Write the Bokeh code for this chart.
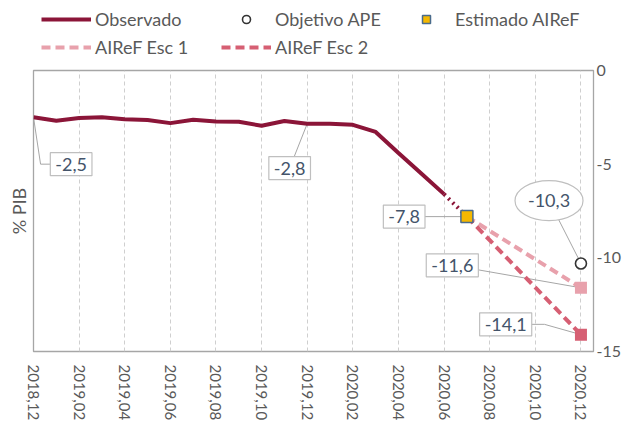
from bokeh.plotting import figure
from bokeh.layouts import column
from bokeh.models import (Range1d, FixedTicker, Legend, LegendItem, Label, Title)
from bokeh.embed import file_html
from bokeh.resources import INLINE

# ---------------- data ----------------
month_labels = ["2018,12", "2019,01", "2019,02", "2019,03", "2019,04", "2019,05",
                "2019,06", "2019,07", "2019,08", "2019,09", "2019,10", "2019,11",
                "2019,12", "2020,01", "2020,02", "2020,03", "2020,04", "2020,05",
                "2020,06", "2020,07", "2020,08", "2020,09", "2020,10", "2020,11",
                "2020,12"]
observado = [-2.5, -2.68, -2.54, -2.5, -2.6, -2.64, -2.81, -2.63, -2.72, -2.74,
             -2.95, -2.7, -2.84, -2.84, -2.9, -3.28, -4.4, -5.5, -6.6]
obs_months = list(range(len(observado)))
estimado_month = [19]
estimado = [-7.8]
esc_months = [19, 24]
esc1 = [-7.8, -11.6]
esc2 = [-7.8, -14.1]
objetivo_month = [24]
objetivo = [-10.3]
y_ticks = [0, -5, -10, -15]
y_tick_labels = ["0", "-5", "-10", "-15"]
x_ticks = list(range(0, 25, 2))

FONT = "Lato"
GREY = "#595959"
C_OBS = "#8B1538"
C_ESC1 = "#E8A1AC"
C_ESC2 = "#D65F73"

# ---------------- styles ----------------
OBS_STYLE = dict(line_color=C_OBS, line_width=4)
ESC1_STYLE = dict(line_color=C_ESC1, line_width=4, line_dash="9 5")
ESC2_STYLE = dict(line_color=C_ESC2, line_width=4, line_dash="9 5")
OBJ_STYLE = dict(marker="circle", size=11, fill_color="white",
                 line_color="#333333", line_width=1.6)
EST_STYLE = dict(marker="square", size=12, fill_color="#F5B800",
                 line_color="#4A6B8C", line_width=1.5)

# ---------------- main chart ----------------
p = figure(width=624, height=371, output_backend="svg", toolbar_location=None,
           x_range=Range1d(0, 24.55), y_range=Range1d(-15, 0),
           y_axis_location="right",
           min_border_left=33, min_border_right=29, min_border_top=12,
           min_border_bottom=78)
p.background_fill_color = "white"
p.border_fill_color = "white"
p.outline_line_color = "#a6a6a6"
p.outline_line_width = 1.3

xa = p.xaxis[0]
xa.ticker = FixedTicker(ticks=x_ticks)
xa.major_label_overrides = {i: month_labels[i] for i in x_ticks}
xa.major_label_orientation = "vertical"
xa.major_label_text_font = FONT
xa.major_label_text_font_size = "15px"
xa.major_label_text_color = GREY
xa.major_label_standoff = 13
xa.major_tick_out = 0
xa.major_tick_in = 0
xa.axis_line_color = None
xa.major_tick_line_color = None
xa.minor_tick_line_color = None

ya = p.yaxis[0]
ya.ticker = FixedTicker(ticks=y_ticks)
ya.major_label_overrides = dict(zip(y_ticks, y_tick_labels))
ya.major_label_text_font = FONT
ya.major_label_text_font_size = "16px"
ya.major_label_text_color = GREY
ya.major_label_standoff = 3
ya.major_tick_out = 0
ya.major_tick_in = 0
ya.axis_label_standoff = 0
ya.axis_line_color = None
ya.major_tick_line_color = None
ya.minor_tick_line_color = None

p.add_layout(Title(text="% PIB", align="center", text_font=FONT,
                   text_font_size="18px", text_font_style="normal",
                   text_color=GREY, standoff=8), "left")

p.xgrid.ticker = FixedTicker(ticks=x_ticks)
p.xgrid.grid_line_color = "#cfcfcf"
p.xgrid.grid_line_dash = "4 3"
p.ygrid.grid_line_color = None

# ---------------- callouts (label offsets in data units) ----------------
def fmt(v):
    return f"{v:.1f}".replace(".", ",")

LEAD = "#a6a6a6"
callouts = [
    # (x, y, dx, dy, elbow_dx, shape)
    (obs_months[0], observado[0], 1.65, -2.5, 0.31, "box"),
    (obs_months[12], observado[12], -0.77, -2.37, None, "box"),
    (estimado_month[0], estimado[0], -2.75, 0.0, None, "box"),
    (objetivo_month[0], objetivo[0], -1.4, 3.35, None, "ellipse"),
    (esc_months[1], esc1[1], -5.64, 1.2, None, "box"),
    (esc_months[1], esc2[1], -3.3, 0.55, -1.6, "box"),
]
for (x, y, dx, dy, elbow, shape) in callouts:
    lx, ly = x + dx, y + dy
    if elbow is None:
        p.line([x, lx], [y, ly], line_color=LEAD, line_width=1)
    else:
        p.line([x, x + elbow, lx], [y, ly, ly], line_color=LEAD, line_width=1)
    if shape == "ellipse":
        p.ellipse(x=[lx], y=[ly], width=68, height=40, width_units="screen",
                  height_units="screen", fill_color="white", line_color="#bfbfbf",
                  line_width=1.2)
        p.add_layout(Label(x=lx, y=ly, text=fmt(y), text_align="center",
                           text_baseline="middle", text_font=FONT,
                           text_font_size="18px", text_color="#44546A"))
    else:
        p.add_layout(Label(x=lx, y=ly, text=fmt(y), text_align="center",
                           text_baseline="middle", text_font=FONT,
                           text_font_size="18px", text_color="#44546A",
                           background_fill_color="white",
                           border_line_color="#bfbfbf", border_line_width=1.2,
                           padding=5))

# ---------------- series ----------------
p.line(esc_months, esc1, **ESC1_STYLE)
p.line(esc_months, esc2, **ESC2_STYLE)
p.scatter([esc_months[1]], [esc1[1]], marker="square", size=12, fill_color=C_ESC1,
          line_color=None)
p.scatter([esc_months[1]], [esc2[1]], marker="square", size=12, fill_color=C_ESC2,
          line_color=None)
p.line(obs_months, observado, **OBS_STYLE)
p.line([obs_months[-1], estimado_month[0]], [observado[-1], estimado[0]],
       line_color=C_OBS, line_width=4, line_dash="2 4")
p.scatter(objetivo_month, objetivo, **OBJ_STYLE)
p.scatter(estimado_month, estimado, **EST_STYLE)

# ---------------- legend strip above the chart ----------------
# proxies use the real series, but this strip's ranges keep them out of view
lf = figure(width=624, height=58, output_backend="svg", toolbar_location=None,
            x_range=Range1d(100, 101), y_range=Range1d(100, 101),
            x_axis_type=None, y_axis_type=None, min_border=0,
            min_border_left=0, min_border_right=0, min_border_top=0,
            min_border_bottom=0)
lf.outline_line_color = None
lf.grid.visible = False
lf.background_fill_color = "white"
lf.border_fill_color = "white"
g_obs = lf.line(obs_months, observado, **OBS_STYLE)
g_obj = lf.scatter(objetivo_month, objetivo, **OBJ_STYLE)
g_est = lf.scatter(estimado_month, estimado, **EST_STYLE)
g_esc1 = lf.line(esc_months, esc1, **ESC1_STYLE)
g_esc2 = lf.line(esc_months, esc2, **ESC2_STYLE)

leg_style = dict(orientation="horizontal",
                 label_text_font=FONT, label_text_font_size="18px",
                 label_text_color=GREY, glyph_width=50, glyph_height=20,
                 label_height=20, label_width=118, label_standoff=4, spacing=8,
                 padding=4, margin=0, border_line_color=None,
                 background_fill_alpha=0)
legend1 = Legend(items=[
    LegendItem(label="Observado", renderers=[g_obs]),
    LegendItem(label="Objetivo APE", renderers=[g_obj]),
    LegendItem(label="Estimado AIReF", renderers=[g_est]),
], location=(8, 28), **leg_style)
legend2 = Legend(items=[
    LegendItem(label="AIReF Esc 1", renderers=[g_esc1]),
    LegendItem(label="AIReF Esc 2", renderers=[g_esc2]),
], location=(8, 0), **leg_style)
lf.add_layout(legend1)
lf.add_layout(legend2)

layout = column(lf, p)
open("out.html", "w").write(file_html(layout, INLINE))
